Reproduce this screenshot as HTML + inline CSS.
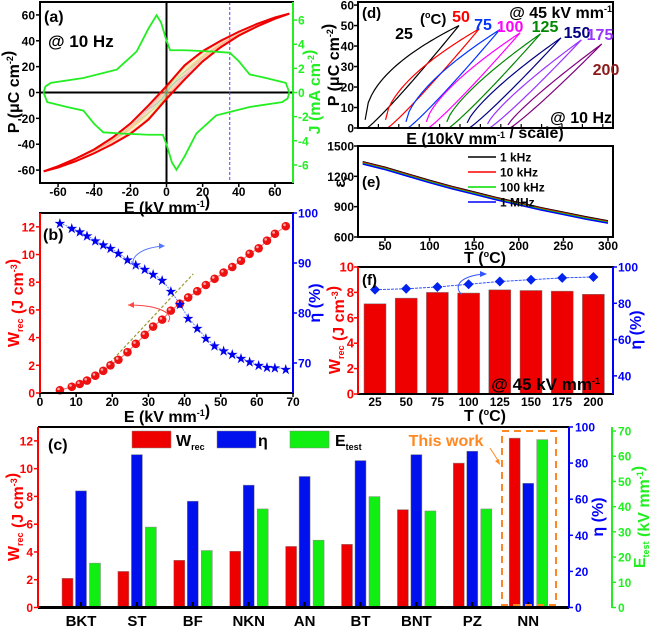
<!DOCTYPE html>
<html><head><meta charset="utf-8"><style>
html,body{margin:0;padding:0;background:#fff;}
svg{display:block;font-family:"Liberation Sans",Arial,sans-serif;font-weight:bold;}
</style></head><body>
<svg id="chart" width="650" height="629" viewBox="0 0 650 629" xmlns="http://www.w3.org/2000/svg"></svg>
<script>
// ---------- data ----------
const aE = [68,60,50,40,30,20,10,0,-10,-20,-30,-40,-50,-60,-68];
const aPup = [61,58,53,47,40,32,21,5,-10,-24,-35,-44,-51,-57,-61];
const aInnerFactors = [0.92,0.84,0.76,0.68,0.6,0.5,0.4,0.3,0.2];
const jE = [-68,-66,-55,-46,-40,-35,-25,-10,-2,0,3,5.5,10,16.5,27.5,46,64,67,68];
const jA = [0,-0.8,-1.2,-1.5,-2.6,-3.3,-3.4,-3.5,-3.5,-4.3,-5.8,-6.4,-5.3,-3.4,-1.9,-1.2,-0.8,-0.5,0];
const bE = [5.5,8.8,11,13,15.3,17.5,19.5,21.7,24.2,26.5,29,31.3,33.8,36.2,38.7,41,43.5,45.9,48.3,50.8,53.2,55.6,58,60.5,62.8,65,68];
const bW = [0.2,0.45,0.65,0.9,1.25,1.6,2.0,2.4,2.95,3.55,4.2,4.8,5.3,5.95,6.45,6.9,7.35,7.8,8.25,8.7,9.1,9.55,10.05,10.45,11.0,11.5,12.05];
const bEta = [98,97,96.3,95.5,94.5,93.7,93,92,90.7,89.7,88.8,87.8,86.6,84.4,81.8,79,77,75,73.5,72.5,71.8,71,70.3,69.6,69.2,69.1,68.8];
const dTemps = ['25','50','75','100','125','150','175','200'];
const dPmax = [50,48.5,48,46.5,46,44,43,41];
const dPr = [4,4,3,3,3,2.5,2,1.5];
const dShift = [4.5,14.5,24.5,34.5,44.5,54.5,64.5,74.5];
const dColors = ['#000000','#ff0000','#0033ff','#ff00ff','#008800','#000080','#9933ff','#800080'];
const eT = [25,50,75,100,125,150,175,200,225,250,275,300];
const e1k = [1345,1290,1225,1160,1100,1045,990,940,890,845,800,760];
const e10k = [1337,1282,1217,1152,1092,1037,982,932,882,837,792,752];
const e100k = [1330,1275,1210,1145,1085,1030,975,925,875,830,785,745];
const e1M = [1322,1267,1202,1137,1077,1022,967,917,867,822,777,737];
const fT = ['25','50','75','100','125','150','175','200'];
const fW = [7.1,7.55,8.0,7.95,8.2,8.15,8.1,7.85];
const fEta = [87.5,88,89,90.5,92,93,94,94.5];
const cCats = ['BKT','ST','BF','NKN','AN','BT','BNT','PZ','NN'];
const cW = [2.1,2.6,3.4,4.05,4.4,4.55,7.05,10.4,12.2];
const cEta = [64.6,84.7,58.9,67.8,72.6,81.4,84.7,86.6,68.8];
const cEtest = [17.6,31.9,22.6,39.1,26.7,44,38.3,39.1,66.6];
const aXTicks = [-60,-40,-20,0,20,40,60];
const aPTicks = [-60,-40,-20,0,20,40,60];
const aJTicks = [-6,-4,-2,0,2,4,6];
const bXTicks = [0,10,20,30,40,50,60,70];
const bWTicks = [0,2,4,6,8,10,12];
const bEtaTicks = [70,80,90,100];
const dPTicks = [0,10,20,30,40,50,60];
const eXTicks = [50,100,150,200,250,300];
const eYTicks = [600,900,1200,1500];
const fWTicks = [0,2,4,6,8,10];
const fEtaTicks = [40,60,80,100];
const cWTicks = [0,2,4,6,8,10,12];
const cEtaTicks = [0,20,40,60,80,100];
const cETicks = [0,10,20,30,40,50,60,70];

// ---------- helpers ----------
const NS='http://www.w3.org/2000/svg';
const svg=document.getElementById('chart');
function lin(d0,d1,r0,r1){return v=>r0+(v-d0)*(r1-r0)/(d1-d0);}
function mk(tag,attrs,parent){const e=document.createElementNS(NS,tag);for(const k in attrs)e.setAttribute(k,attrs[k]);(parent||svg).appendChild(e);return e;}
function grp(name){const g=mk('g',{});return g;}
function pathD(xs,ys){return xs.map((x,i)=>(i?'L':'M')+x.toFixed(2)+' '+ys[i].toFixed(2)).join(' ');}
function interp(xArr,yArr,x){
  for(let i=0;i<xArr.length-1;i++){const a=xArr[i],b=xArr[i+1];if((x-a)*(x-b)<=0){const t=(x-a)/(b-a||1);return yArr[i]+t*(yArr[i+1]-yArr[i]);}}
  return yArr[yArr.length-1];}
function yTicks(g,vals,sc,x,dir,color,len,fs,lx,anchor){
  vals.forEach(v=>{
    const t=mk('line',{x1:x,x2:x+dir*len,y1:sc(v),y2:sc(v),stroke:color,'stroke-width':1.5},g);
    
    
    const l=mk('text',{x:lx,y:sc(v)+4.5,'text-anchor':anchor,fill:color,'font-size':fs},g);
    l.textContent=v;
    
    
  });}
function xTicks(g,vals,sc,y,color,fs,ly){
  vals.forEach(v=>{
    const t=mk('line',{x1:sc(v),x2:sc(v),y1:y,y2:y+4,stroke:color,'stroke-width':1.5},g);
    
    
    const l=mk('text',{x:sc(v),y:ly,'text-anchor':'middle',fill:color,'font-size':fs},g);
    l.textContent=v;
    
    
  });}
function label(g,html,x,y,fs,color,anchor,rot,name){
  const t=mk('text',{x:x,y:y,'font-size':fs,fill:color,'text-anchor':anchor||'start'},g);
  if(rot)t.setAttribute('transform','rotate('+rot+' '+x+' '+y+')');
  t.innerHTML=html;
  
  
  return t;}
const sup=s=>'<tspan dy="-6" font-size="9">'+s+'</tspan><tspan dy="6"></tspan>';
const sub=s=>'<tspan dy="4" font-size="9">'+s+'</tspan><tspan dy="-4"></tspan>';

// ================= PANEL A =================
(function(){
const g=grp('panel-a-pe-loop');
const ax=lin(-70,70,40,293), ayP=lin(-70,70,183,2), ayJ=lin(-7.5,7.5,183,2);
let l=mk('line',{x1:40,x2:293,y1:ayP(0),y2:ayP(0),stroke:'#000','stroke-width':2},g);

l=mk('line',{x1:ax(0),x2:ax(0),y1:2,y2:183,stroke:'#000','stroke-width':2},g);

l=mk('line',{x1:ax(35),x2:ax(35),y1:2,y2:183,stroke:'#6633ff','stroke-width':1,'stroke-dasharray':'3,2'},g);

const negE=aE.map(e=>-e), negP=aPup.map(p=>-p);
const innerColors=['#ff4444','#ff6644','#ff8855','#ff9966','#ffaa77','#ffcc66','#dddd66','#99dd77','#66bbdd'];
aInnerFactors.forEach((f,k)=>{
  const tipE=68*f, tipP=interp(negE,negP,tipE);
  const s=tipP/61;
  const ue=aE.map(e=>ax(e*f)), up=aPup.map((p,i)=>{const q=interp(negE,negP,aE[i]);return ayP(((p+q)/2+(p-q)/2*f)*s);});
  const le=negE.map(e=>ax(e*f)), lp=negP.map((p,i)=>{const q=interp(aE,aPup,negE[i]);return ayP(((p+q)/2+(p-q)/2*f)*s);});
  const p=mk('path',{d:pathD(ue,up)+' '+pathD(le,lp).replace('M','L'),fill:'none',stroke:innerColors[k],'stroke-width':0.6,opacity:0.6},g);
  
  
});
let p=mk('path',{d:pathD(aE.map(ax),aPup.map(ayP))+' '+pathD(negE.map(ax),negP.map(ayP)).replace('M','L'),fill:'none',stroke:'#ee0000','stroke-width':2},g);


p=mk('path',{d:pathD(jE.map(ax),jA.map(ayJ)),fill:'none',stroke:'#22ee22','stroke-width':1.8},g);


p=mk('path',{d:pathD(jE.map(e=>ax(-e)),jA.map(j=>ayJ(-j))),fill:'none',stroke:'#22ee22','stroke-width':1.8},g);


let r=mk('rect',{x:40,y:2,width:253,height:181,fill:'none',stroke:'#000','stroke-width':2},g);

l=mk('line',{x1:293,x2:293,y1:2,y2:183,stroke:'#22ee22','stroke-width':2},g);

yTicks(g,aPTicks,ayP,40,-1,'#000',4,12,35,'end');
yTicks(g,aJTicks,ayJ,293,1,'#22ee22',4,12,298,'start');
xTicks(g,aXTicks,ax,183,'#000',12,196);
label(g,'(a)',44,22,16,'#000','start',0,'panel-label-a');
label(g,'@ 10 Hz',48,47,17,'#000','start',0,'frequency-note');
label(g,'E (kV mm'+sup('-1')+')',167,213,16,'#000','middle',0,'x-axis-title');
label(g,'P (μC cm'+sup('-2')+')',19,92,16,'#000','middle',-90,'p-axis-title');
label(g,'J (mA cm'+sup('-2')+')',320,92,16,'#22ee22','middle',-90,'j-axis-title');
})();

// ================= PANEL B =================
(function(){
const g=grp('panel-b-energy');
const bx=lin(0,70,40,293), byW=lin(0,13,393,213), byE=lin(64,100,393,213);
let l=mk('line',{x1:bx(19.4),y1:byW(2.2),x2:bx(42.4),y2:byW(8.6),stroke:'#999933','stroke-width':1.2,'stroke-dasharray':'3,2'},g);

let p=mk('path',{d:pathD(bE.map(bx),bW.map(byW)),fill:'none',stroke:'#ff6666','stroke-width':1},g);

p=mk('path',{d:pathD(bE.map(bx),bEta.map(byE)),fill:'none',stroke:'#6688ff','stroke-width':1,'stroke-dasharray':'2,1'},g);

bE.forEach((e,i)=>{
  const c=mk('circle',{cx:bx(e),cy:byW(bW[i]),r:4.3,fill:'#ee1111'},g);
  
  
  const h=mk('circle',{cx:bx(e)-1.3,cy:byW(bW[i])-1.3,r:1.3,fill:'#ffaaaa'},g);
  
  const s=mk('text',{x:bx(e),y:byE(bEta[i])+4.5,'text-anchor':'middle','font-size':12,fill:'#0000ee'},g);
  s.textContent='★';
  
  
});
p=mk('path',{d:'M168 322 C175 314 160 305 128 305',fill:'none',stroke:'#ff4444','stroke-width':1},g);

p=mk('path',{d:'M128 305 l6 -3 l0 6 z',fill:'#ff4444'},g);

p=mk('path',{d:'M135 268 C128 258 140 248 163 246',fill:'none',stroke:'#5577ff','stroke-width':1},g);

p=mk('path',{d:'M165 246 l-6 -3 l0 6 z',fill:'#5577ff'},g);

let r=mk('rect',{x:40,y:213,width:253,height:180,fill:'none',stroke:'#000','stroke-width':2},g);

l=mk('line',{x1:40,x2:40,y1:213,y2:393,stroke:'#ff0000','stroke-width':2},g);

l=mk('line',{x1:293,x2:293,y1:213,y2:393,stroke:'#0000ff','stroke-width':2},g);

yTicks(g,bWTicks,byW,40,-1,'#ff0000',4,12,35,'end');
yTicks(g,bEtaTicks,byE,293,1,'#0000ff',4,12,298,'start');
xTicks(g,bXTicks,bx,393,'#000',12,406);
label(g,'(b)',43,240,16,'#000','start',0,'panel-label-b');
label(g,'E (kV mm'+sup('-1')+')',167,422,16,'#000','middle',0,'x-axis-title');
label(g,'W'+sub('rec')+' (J cm'+sup('-3')+')',19,303,16,'#ff0000','middle',-90,'wrec-axis-title');
label(g,'η (%)',320,303,16,'#0000ff','middle',-90,'eta-axis-title');
})();

// ================= PANEL D =================
(function(){
const g=grp('panel-d-temperature-loops');
const dx=lin(0,125,358,613), dy=lin(0,61.5,128,2);
const dExp=[0.5,0.6,0.65,0.7,0.75,0.78,0.82,0.86];
dTemps.forEach((t,k)=>{
  const xs=[],ys=[];
  for(let i=0;i<=30;i++){const u=i/30;xs.push(dx(dShift[k]+45*u));ys.push(dy(dPmax[k]*Math.pow(u,1.1)));}
  for(let i=30;i>=0;i--){const u=i/30;xs.push(dx(dShift[k]-1+46*u));ys.push(dy(dPr[k]+(dPmax[k]-dPr[k])*Math.pow(u,dExp[k])));}
  const p=mk('path',{d:pathD(xs,ys),fill:'none',stroke:dColors[k],'stroke-width':1.2},g);
  
  
});
let r=mk('rect',{x:358,y:2,width:255,height:126,fill:'none',stroke:'#000','stroke-width':2},g);

yTicks(g,dPTicks,dy,358,-1,'#000',4,12,354,'end');
for(let v=0;v<=120;v+=10){const t=mk('line',{x1:dx(v),x2:dx(v),y1:128,y2:124,stroke:'#000','stroke-width':1.2},g);}
label(g,'(d)',362,18,15,'#000','start',0,'panel-label-d');
label(g,'@ 45 kV mm'+sup('-1'),612,18,16,'#000','end',0,'field-note');
label(g,'@ 10 Hz',612,123,16,'#000','end',0,'frequency-note');
label(g,'(<tspan dy="-6" font-size="9">o</tspan><tspan dy="6">C)</tspan>',420,24,15,'#000','start',0,'temperature-unit');
const pos=[[404,39,'#000'],[461,22,'#ff0000'],[483,30,'#0033ff'],[510,32,'#ff00ff'],[545,32,'#008800'],[577,38,'#000080'],[600,40,'#9933ff'],[606,75,'#8b1a1a']];
dTemps.forEach((t,k)=>{
  const tx=mk('text',{x:pos[k][0],y:pos[k][1],'font-size':16,fill:pos[k][2],'text-anchor':'middle'},g);
  tx.textContent=t;
  
  
});
label(g,'E (10kV mm'+sup('-1')+' / scale)',485,144,16,'#000','middle',0,'x-axis-title');
label(g,'P (μC cm'+sup('-2')+')',339,65,16,'#000','middle',-90,'p-axis-title');
})();

// ================= PANEL E =================
(function(){
const g=grp('panel-e-permittivity');
const ex=lin(50,300,385,608), ey=lin(600,1500,237,146);
const series=[[e1k,'#000000','1 kHz'],[e10k,'#ff0000','10 kHz'],[e100k,'#00dd00','100 kHz'],[e1M,'#0000ff','1 MHz']];
series.forEach((s,k)=>{
  const p=mk('path',{d:pathD(eT.map(ex),s[0].map(ey)),fill:'none',stroke:s[1],'stroke-width':1.5},g);
  
  
  const y=157+k*15;
  const ll=mk('line',{x1:468,x2:496,y1:y,y2:y,stroke:s[1],'stroke-width':1.5},g);
  
  const lt=mk('text',{x:500,y:y+4.5,'font-size':12,fill:'#000'},g);
  lt.textContent=s[2];
  
  
});
let r=mk('rect',{x:358,y:146,width:255,height:91,fill:'none',stroke:'#000','stroke-width':2},g);

yTicks(g,eYTicks,ey,358,-1,'#000',4,12,354,'end');
xTicks(g,eXTicks,ex,237,'#000',12,250);
label(g,'(e)',362,187,15,'#000','start',0,'panel-label-e');
label(g,'ε'+sub('r'),345,182,16,'#000','middle',-90,'epsilon-axis-title');
label(g,'T (<tspan dy="-6" font-size="9">o</tspan><tspan dy="6">C)</tspan>',485,263,16,'#000','middle',0,'x-axis-title');
})();

// ================= PANEL F =================
(function(){
const g=grp('panel-f-temperature-bars');
const fx=i=>375+i*31.2, fyW=lin(0,10,394,267), fyE=lin(30,100,394,267);
fT.forEach((t,i)=>{
  const b=mk('rect',{x:fx(i)-11,y:fyW(fW[i]),width:22,height:394-fyW(fW[i]),fill:'#ee0000',stroke:'#777','stroke-width':0.5},g);
  
  
});
let p=mk('path',{d:pathD(fT.map((t,i)=>fx(i)),fEta.map(fyE)),fill:'none',stroke:'#3355ff','stroke-width':1,'stroke-dasharray':'3,1'},g);

fT.forEach((t,i)=>{
  const d=mk('path',{d:'M'+fx(i)+' '+(fyE(fEta[i])-5)+' l5 5 l-5 5 l-5 -5 z',fill:'#0022ee'},g);
  
  
});
p=mk('path',{d:'M462 295 C452 285 462 276 484 274',fill:'none',stroke:'#3355ff','stroke-width':1},g);

p=mk('path',{d:'M487 274 l-7 -3 l0 6 z',fill:'#3355ff'},g);

let r=mk('rect',{x:358,y:267,width:255,height:127,fill:'none',stroke:'#000','stroke-width':2},g);

let l=mk('line',{x1:358,x2:358,y1:267,y2:394,stroke:'#ff0000','stroke-width':2},g);

l=mk('line',{x1:613,x2:613,y1:267,y2:394,stroke:'#0000ff','stroke-width':2},g);

yTicks(g,fWTicks,fyW,358,-1,'#ff0000',4,13,354,'end');
yTicks(g,fEtaTicks,fyE,613,1,'#0000ff',4,12,618,'start');
fT.forEach((t,i)=>{
  const tx=mk('text',{x:fx(i),y:406,'font-size':12,'text-anchor':'middle',fill:'#000'},g);
  tx.textContent=t;
  
  
});
label(g,'(f)',362,285,15,'#000','start',0,'panel-label-f');
label(g,'@ 45 kV mm'+sup('-1'),600,390,17,'#000','end',0,'field-note');
label(g,'T (<tspan dy="-6" font-size="9">o</tspan><tspan dy="6">C)</tspan>',485,421,16,'#000','middle',0,'x-axis-title');
label(g,'W'+sub('rec')+' (J cm'+sup('-3')+')',340,330,16,'#ff0000','middle',-90,'wrec-axis-title');
label(g,'η (%)',641,330,16,'#0000ff','middle',-90,'eta-axis-title');
})();

// ================= PANEL C =================
(function(){
const g=grp('panel-c-comparison');
const cx=i=>81+i*55.9, cyW=lin(0,13,607.5,427), cyEta=lin(0,100,607.5,427), cyE=lin(0,71.6,607.5,427);
cCats.forEach((c,i)=>{
  let b=mk('rect',{x:cx(i)-19,y:cyW(cW[i]),width:11,height:607.5-cyW(cW[i]),fill:'#ee0000',stroke:'#888','stroke-width':0.5},g);
  
  
  b=mk('rect',{x:cx(i)-5.5,y:cyEta(cEta[i]),width:11,height:607.5-cyEta(cEta[i]),fill:'#0011ee',stroke:'#888','stroke-width':0.5},g);
  
  
  b=mk('rect',{x:cx(i)+8.5,y:cyE(cEtest[i]),width:11,height:607.5-cyE(cEtest[i]),fill:'#11ee11',stroke:'#888','stroke-width':0.5},g);
  
  
  const t=mk('line',{x1:cx(i),x2:cx(i),y1:607,y2:602,stroke:'#000','stroke-width':2},g);
  
  const tx=mk('text',{x:cx(i),y:626,'font-size':15,'text-anchor':'middle',fill:'#000'},g);
  tx.textContent=c;
  
  
});
let l=mk('line',{x1:38,x2:569,y1:427,y2:427,stroke:'#000','stroke-width':2},g);

l=mk('line',{x1:38,x2:569,y1:607.5,y2:607.5,stroke:'#000','stroke-width':3},g);

l=mk('line',{x1:38,x2:38,y1:427,y2:608,stroke:'#ff0000','stroke-width':2},g);

l=mk('line',{x1:569,x2:569,y1:427,y2:608,stroke:'#0000ff','stroke-width':2},g);

l=mk('line',{x1:612,x2:612,y1:427,y2:608,stroke:'#22ee22','stroke-width':2},g);

yTicks(g,cWTicks,cyW,38,-1,'#ff0000',4,12,33,'end');
yTicks(g,cEtaTicks,cyEta,569,1,'#0000ff',4,12,575,'start');
yTicks(g,cETicks,cyE,612,1,'#22ee22',4,12,618,'start');
let r=mk('rect',{x:502,y:431,width:54,height:174,fill:'none',stroke:'#ff8822','stroke-width':2,'stroke-dasharray':'7,5'},g);

label(g,'This work',446,446,16,'#ff8822','middle',0,'this-work-label');
let p=mk('path',{d:'M490 448 L499 462',stroke:'#ff8822','stroke-width':1,fill:'none'},g);

p=mk('path',{d:'M500 465 l-5 -4 l4 -2 z',fill:'#ff8822'},g);

const leg=[[132,'#ee0000','W'+sub('rec'),176],[217,'#0011ee','η',258],[290,'#11ee11','E'+sub('test'),335]];
leg.forEach(e=>{
  const s=mk('rect',{x:e[0],y:431,width:39,height:17,fill:e[1],stroke:'#888','stroke-width':0.5},g);
  
  label(g,e[2],e[3],446,16,'#000','start',0,'legend-entry');
});
label(g,'(c)',48,450,16,'#000','start',0,'panel-label-c');
label(g,'W'+sub('rec')+' (J cm'+sup('-3')+')',19,517,16,'#ff0000','middle',-90,'wrec-axis-title');
label(g,'η (%)',603,517,16,'#0000ff','middle',-90,'eta-axis-title');
label(g,'E'+sub('test')+' (kV mm'+sup('-1')+')',645,517,16,'#22ee22','middle',-90,'etest-axis-title');
})();
</script>
</body></html>
